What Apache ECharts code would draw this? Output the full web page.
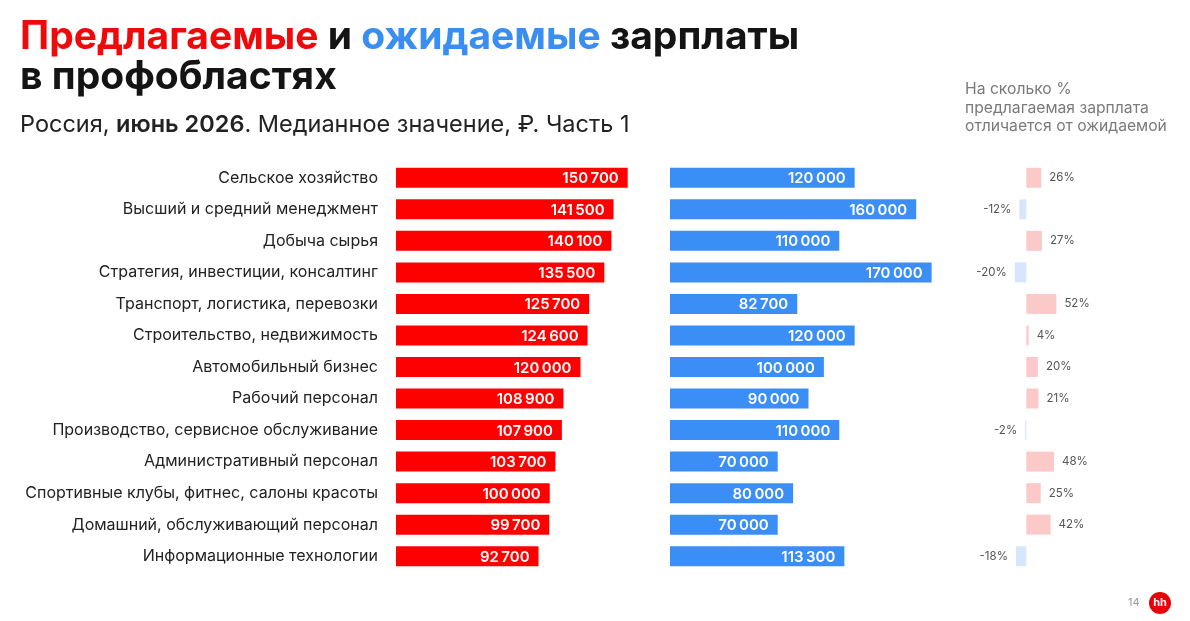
<!DOCTYPE html>
<html><head><meta charset="utf-8">
<script src="https://cdn.jsdelivr.net/npm/echarts@6/dist/echarts.min.js"></script>
<style>html,body{margin:0;padding:0;background:#fff;}#c{width:1190px;height:621px;}</style>
</head><body><div id="c"></div>
<script>
const categories = ["Сельское хозяйство","Высший и средний менеджмент","Добыча сырья","Стратегия, инвестиции, консалтинг","Транспорт, логистика, перевозки","Строительство, недвижимость","Автомобильный бизнес","Рабочий персонал","Производство, сервисное обслуживание","Административный персонал","Спортивные клубы, фитнес, салоны красоты","Домашний, обслуживающий персонал","Информационные технологии"];
const offered = [150700,141500,140100,135500,125700,124600,120000,108900,107900,103700,100000,99700,92700];
const expected = [120000,160000,110000,170000,82700,120000,100000,90000,110000,70000,80000,70000,113300];
const diffPct = [26,-12,27,-20,52,4,20,21,-2,48,25,42,-18];

const FONT = 'Inter, Roboto, "Noto Sans", sans-serif';
const fmt = v => String(v).replace(/\B(?=(\d{3})+(?!\d))/g, '\u2009');
const chart = echarts.init(document.getElementById('c'));
const gTop = 162, gHeight = 410;
const catAxis = (gi, show) => ({
  type:'category', gridIndex:gi, data:categories, inverse:true,
  axisLine:{show:false}, axisTick:{show:false},
  axisLabel:{show:show, margin:18, fontSize:16, color:'#222', fontFamily:FONT}
});
const valAxis = (gi, min, max) => ({type:'value', gridIndex:gi, min:min, max:max, show:false, splitLine:{show:false}});
const T = {fontSize:39,fontWeight:'bold',fontFamily:FONT,lineHeight:40};
chart.setOption({
  animation:false,
  title:[{
    left:20, top:17, padding:0,
    text:'{r|Предлагаемые}{k| и }{b|ожидаемые}{k| зарплаты}\n{k|в профобластях}',
    textStyle:{rich:{
      r:Object.assign({color:'#ee0a0a'},T),
      b:Object.assign({color:'#3a8ef0'},T),
      k:Object.assign({color:'#141414'},T)
    }}
  },{
    left:20, top:113, padding:0,
    text:'{n|Россия, }{m|июнь 2026}{n|. Медианное значение, ₽. Часть 1}',
    textStyle:{fontWeight:'normal',rich:{
      n:{fontSize:23.5,color:'#222',fontWeight:'normal',fontFamily:FONT},
      m:{fontSize:23.5,color:'#222',fontWeight:600,fontFamily:FONT}
    }}
  },{
    left:965, top:80, padding:0,
    text:'На сколько %\nпредлагаемая зарплата\nотличается от ожидаемой',
    textStyle:{fontSize:15.7,color:'#7a7a7a',fontWeight:'normal',fontFamily:FONT,lineHeight:18.7}
  }],
  grid:[
    {left:396, top:gTop, width:246, height:gHeight},
    {left:670, top:gTop, width:277, height:gHeight},
    {left:1009, top:gTop, width:52, height:gHeight}
  ],
  yAxis:[catAxis(0,true), catAxis(1,false), catAxis(2,false)],
  xAxis:[valAxis(0,0,160000), valAxis(1,0,180000), valAxis(2,-30,60)],
  series:[
    {type:'bar', xAxisIndex:0, yAxisIndex:0, data:offered, barWidth:20,
     itemStyle:{color:'#ff0000'},
     label:{show:true, position:'insideRight', offset:[-4,1], color:'#fff', fontSize:15, fontWeight:600, fontFamily:FONT, formatter:p=>fmt(p.value)}},
    {type:'bar', xAxisIndex:1, yAxisIndex:1, data:expected, barWidth:20,
     itemStyle:{color:'#3a8ef6'},
     label:{show:true, position:'insideRight', offset:[-4,1], color:'#fff', fontSize:15, fontWeight:600, fontFamily:FONT, formatter:p=>fmt(p.value)}},
    {type:'bar', xAxisIndex:2, yAxisIndex:2, barWidth:20,
     data:diffPct.map(v=>({value:v, itemStyle:{color: v>=0 ? '#fcc9c9' : '#d6e6fb'},
       label:{position: v>=0 ? 'right' : 'left'}})),
     label:{show:true, distance:8, color:'#555', fontSize:11.5, fontFamily:FONT, formatter:p=>p.value+'%'}}
  ],
  graphic:[
    {type:'text', left:1128, top:597, style:{text:'14', fontSize:11, fill:'#999', fontFamily:FONT}},
    {type:'circle', shape:{cx:1160, cy:603, r:11}, style:{fill:'#e8000b'}},
    {type:'text', style:{text:'hh', x:1160, y:603, align:'center', verticalAlign:'middle', fontSize:11, fontWeight:'bold', fill:'#fff', fontFamily:FONT}}
  ]
});
</script></body></html>
